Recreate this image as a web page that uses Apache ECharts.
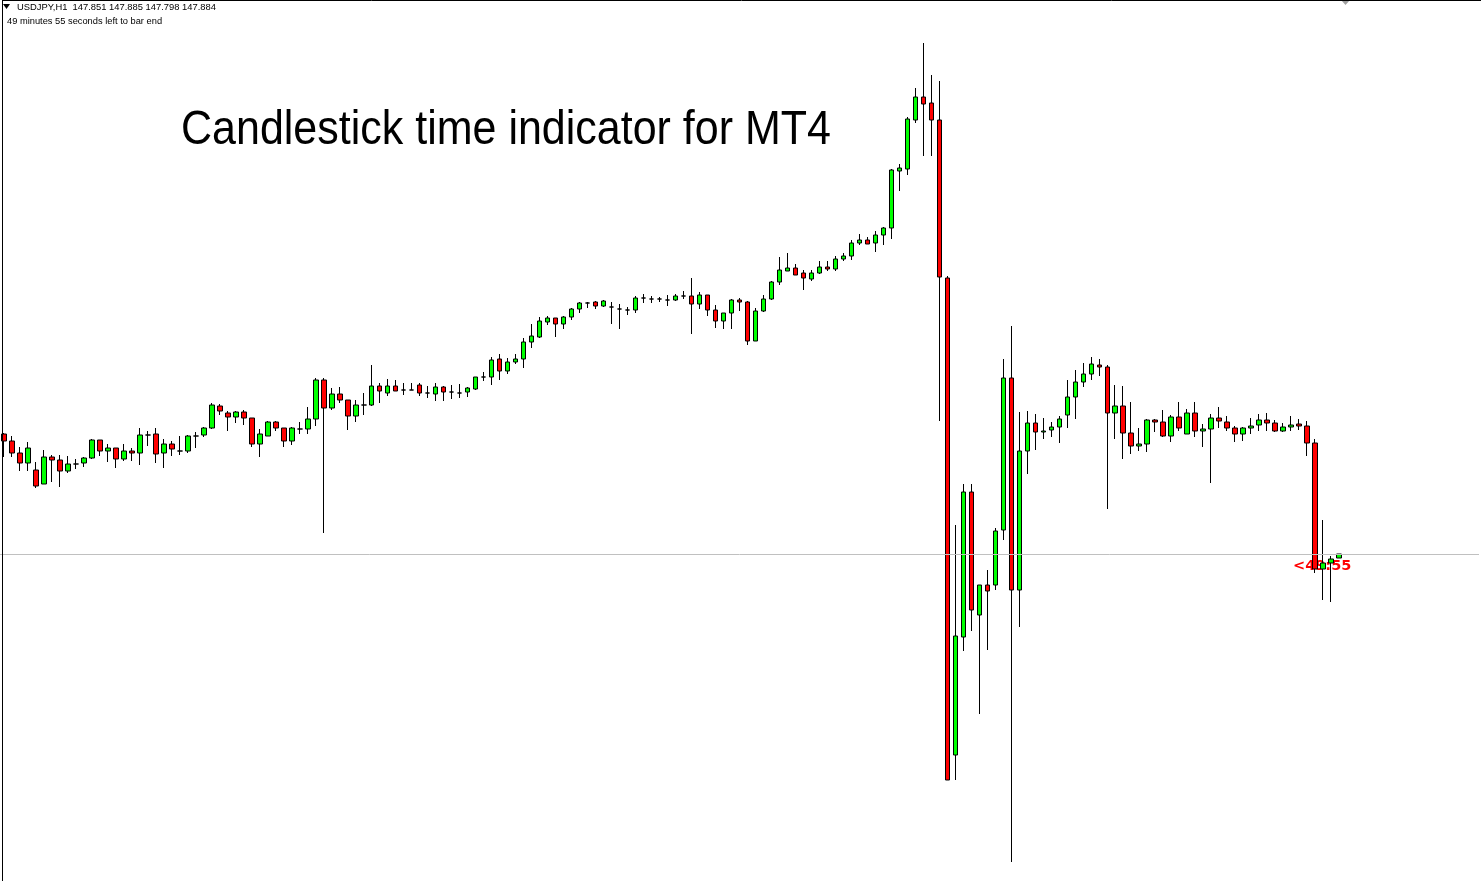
<!DOCTYPE html>
<html><head><meta charset="utf-8">
<script src="https://cdn.jsdelivr.net/npm/echarts@6/dist/echarts.min.js"></script>
<style>html,body{margin:0;padding:0;background:#fff;overflow:hidden}#c{width:1481px;height:881px}</style>
</head><body><div id="c"></div>
<script>
const headerLine = 'USDJPY,H1  147.851 147.885 147.798 147.884';
const timeLeftLine = '49 minutes 55 seconds left to bar end';
const countdownText = '<49:55';
const titleText = 'Candlestick time indicator for MT4';

const opens = [
149.084,149.014,148.894,148.794,148.724,148.584,148.854,148.824,148.714,148.784,
148.794,148.844,149.024,148.914,148.944,148.834,148.914,148.894,149.074,149.084,
148.894,148.984,148.914,148.914,149.064,149.074,149.144,149.364,149.294,149.254,
149.304,149.244,148.984,149.064,149.204,149.144,149.014,149.134,149.134,149.234,
149.624,149.344,149.484,149.424,149.264,149.374,149.374,149.564,149.494,149.564,
149.524,149.524,149.574,149.494,149.484,149.554,149.504,149.494,149.504,149.534,
149.654,149.654,149.834,149.714,149.804,149.834,150.004,150.054,150.204,150.244,
150.184,150.254,150.334,150.394,150.404,150.364,150.354,150.334,150.324,150.324,
150.444,150.434,150.434,150.424,150.424,150.464,150.464,150.384,150.474,150.324,
150.214,150.294,150.424,150.404,150.014,150.314,150.434,150.604,150.714,150.744,
150.694,150.634,150.694,150.754,150.734,150.834,150.864,150.994,151.024,150.994,
151.074,151.144,151.714,151.734,152.224,152.454,152.394,152.224,150.644,145.874,
147.054,148.504,147.274,147.574,147.574,148.124,149.644,147.524,148.914,149.194,
149.104,149.124,149.154,149.274,149.454,149.604,149.684,149.774,149.754,149.294,
149.364,149.094,148.964,148.984,149.224,149.204,149.064,149.254,149.084,149.294,
149.114,149.134,149.244,149.204,149.144,149.084,149.144,149.174,149.224,149.194,
149.114,149.154,149.184,149.164,148.994,147.734,147.794,147.844
];
const closes = [
149.014,148.894,148.794,148.944,148.564,148.854,148.824,148.714,148.784,148.784,
148.844,149.024,148.914,148.944,148.834,148.914,148.894,149.074,149.074,148.884,
148.984,148.934,148.914,149.064,149.064,149.144,149.374,149.314,149.254,149.304,
149.244,148.984,149.084,149.204,149.144,149.014,149.144,149.134,149.234,149.624,
149.344,149.484,149.424,149.264,149.374,149.374,149.564,149.514,149.564,149.514,
149.524,149.524,149.494,149.494,149.554,149.504,149.504,149.494,149.544,149.654,
149.654,149.824,149.714,149.804,149.834,150.004,150.064,150.214,150.244,150.184,
150.254,150.334,150.394,150.394,150.364,150.414,150.354,150.334,150.324,150.444,
150.444,150.434,150.434,150.424,150.464,150.464,150.384,150.474,150.324,150.214,
150.294,150.424,150.404,150.014,150.314,150.434,150.604,150.724,150.744,150.674,
150.644,150.694,150.754,150.734,150.834,150.864,150.994,151.024,150.984,151.074,
151.144,151.724,151.744,152.234,152.454,152.384,152.224,150.654,145.624,147.064,
148.504,147.324,147.574,147.514,148.114,149.644,147.524,148.914,149.194,149.104,
149.114,149.154,149.234,149.454,149.604,149.684,149.784,149.754,149.294,149.364,
149.094,148.964,148.984,149.224,149.204,149.064,149.254,149.144,149.294,149.114,
149.134,149.244,149.214,149.144,149.084,149.144,149.164,149.224,149.194,149.114,
149.154,149.174,149.164,148.994,147.734,147.794,147.834,147.884
];
const lows = [
148.854,148.854,148.714,148.714,148.544,148.584,148.604,148.554,148.694,148.734,
148.754,148.834,148.864,148.804,148.744,148.814,148.814,148.774,148.964,148.794,
148.744,148.864,148.874,148.894,148.944,149.054,149.134,149.274,149.114,149.194,
149.174,148.954,148.854,149.064,149.114,148.954,148.974,149.084,149.084,149.164,
148.094,149.324,149.394,149.124,149.204,149.274,149.364,149.394,149.464,149.514,
149.474,149.524,149.464,149.444,149.414,149.414,149.434,149.444,149.454,149.524,
149.614,149.574,149.624,149.684,149.784,149.744,149.944,150.044,150.174,150.054,
150.134,150.224,150.294,150.344,150.334,150.354,150.184,150.134,150.274,150.294,
150.394,150.394,150.404,150.364,150.414,150.434,150.084,150.334,150.264,150.144,
150.134,150.134,150.314,149.974,150.014,150.304,150.424,150.574,150.714,150.674,
150.524,150.614,150.684,150.714,150.714,150.814,150.824,150.974,150.984,150.904,
150.974,151.034,151.514,151.674,152.194,151.864,151.864,149.214,145.624,145.624,
146.914,147.114,146.284,146.924,147.524,148.024,144.804,147.154,148.684,148.924,
149.034,149.054,148.994,149.144,149.234,149.554,149.624,149.664,148.334,149.034,
148.834,148.884,148.914,148.904,149.104,149.054,149.004,149.114,149.084,149.054,
148.954,148.594,149.144,149.114,149.004,149.014,149.084,149.114,149.114,149.104,
149.104,149.114,149.124,148.864,147.694,147.424,147.404,147.844
];
const highs = [
149.094,149.064,148.954,149.004,148.804,148.924,148.874,148.874,148.864,148.834,
148.854,149.034,149.024,148.984,148.944,148.984,148.944,149.144,149.114,149.144,
149.034,149.014,149.064,149.074,149.104,149.154,149.394,149.384,149.314,149.314,
149.324,149.244,149.134,149.214,149.214,149.144,149.154,149.204,149.354,149.644,
149.644,149.544,149.554,149.424,149.424,149.494,149.774,149.594,149.634,149.624,
149.594,149.594,149.594,149.564,149.594,149.564,149.574,149.584,149.554,149.654,
149.704,149.854,149.884,149.844,149.884,150.044,150.184,150.254,150.264,150.244,
150.264,150.344,150.404,150.404,150.414,150.424,150.404,150.384,150.354,150.464,
150.484,150.464,150.454,150.474,150.484,150.514,150.644,150.504,150.474,150.374,
150.294,150.434,150.444,150.414,150.344,150.474,150.614,150.854,150.894,150.784,
150.724,150.724,150.814,150.814,150.864,150.894,151.024,151.084,151.054,151.114,
151.154,151.734,151.784,152.254,152.544,152.994,152.674,152.614,150.664,148.174,
148.584,148.584,147.574,147.724,148.144,149.834,150.164,149.304,149.314,149.284,
149.244,149.204,149.264,149.624,149.724,149.794,149.854,149.834,149.774,149.574,
149.564,149.404,149.144,149.234,149.234,149.324,149.274,149.404,149.334,149.404,
149.184,149.284,149.354,149.264,149.164,149.154,149.244,149.284,149.294,149.224,
149.194,149.264,149.234,149.214,149.034,148.224,147.864,147.884
];

const priceMin = 144.614;
const priceMax = 153.424;
const slotCount = 185;

const categories = Array.from({length: slotCount}, (_, i) => 'H' + i);
const candles = opens.map((o, i) => [o, closes[i], lows[i], highs[i]]);
const lastClose = closes[closes.length - 1];

const chart = echarts.init(document.getElementById('c'), null, {renderer: 'canvas'});
chart.setOption({
  animation: false,
  backgroundColor: '#ffffff',
  grid: {left: -1, top: 0, width: slotCount * 8, height: 881, containLabel: false},
  xAxis: {type: 'category', data: categories, boundaryGap: true, show: false},
  yAxis: {type: 'value', min: priceMin, max: priceMax, show: false, splitLine: {show: false}},
  series: [{
    type: 'candlestick',
    data: candles,
    barWidth: 5,
    z: 2,
    itemStyle: {
      color: '#00ff00', color0: '#ff0000',
      borderColor: '#000000', borderColor0: '#000000', borderColorDoji: '#000000',
      borderWidth: 1
    },
    markLine: {
      silent: true, symbol: 'none', animation: false,
      label: {show: false},
      lineStyle: {color: '#c0c0c0', width: 1, type: 'solid'},
      emphasis: {disabled: true},
      data: [{yAxis: lastClose}]
    }
  }],
  graphic: [
    {type: 'text', z: 1, left: 1293, top: 559,
     style: {text: countdownText, fill: '#ff0000', font: 'bold 14.5px "DejaVu Sans"'}},
    {type: 'text', z: 5, x: 181, y: 155, scaleY: 1.12,
     style: {text: titleText, fill: '#000000', font: '43px "Liberation Sans"', verticalAlign: 'bottom'}},
    {type: 'text', z: 5, left: 17, top: 3,
     style: {text: headerLine, fill: '#000000', font: '9.4px "Liberation Sans"'}},
    {type: 'text', z: 5, left: 7, top: 17,
     style: {text: timeLeftLine, fill: '#000000', font: '9.3px "Liberation Sans"'}},
    {type: 'polygon', z: 5, shape: {points: [[3, 4], [10, 4], [6.5, 9]]}, style: {fill: '#000000'}},
    {type: 'polygon', z: 5, shape: {points: [[1341, 0], [1350, 0], [1345.5, 5]]}, style: {fill: '#a0a0a0'}},
    {type: 'line', z: 10, shape: {x1: 2.5, y1: 0, x2: 2.5, y2: 881}, style: {stroke: '#000000', lineWidth: 1}},
    {type: 'line', z: 10, shape: {x1: 2, y1: 0.5, x2: 1481, y2: 0.5}, style: {stroke: '#000000', lineWidth: 1}}
  ]
});
</script>
</body></html>
